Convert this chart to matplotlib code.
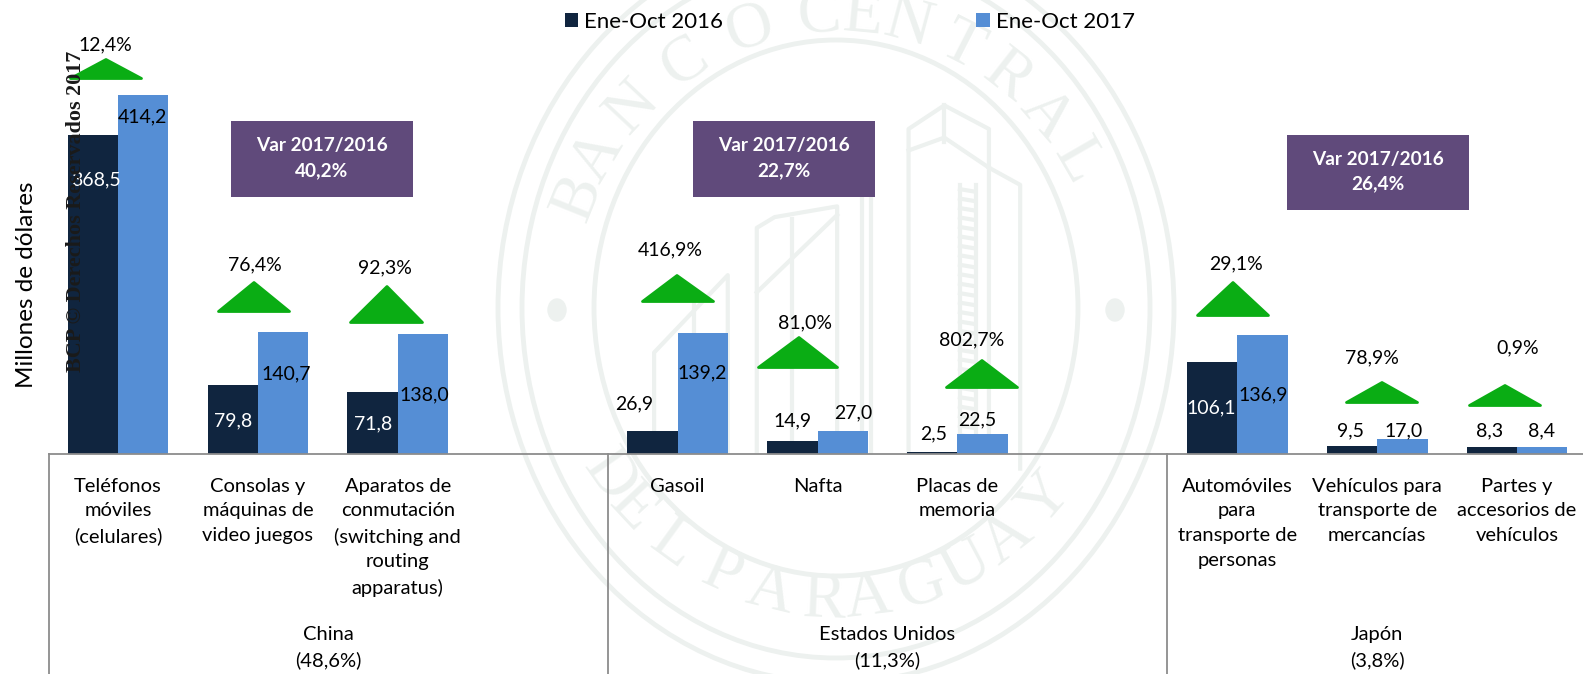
import numpy as np
import matplotlib
matplotlib.use("Agg")
import matplotlib.pyplot as plt
from matplotlib.patches import Ellipse, Polygon, Rectangle, Circle

W, H = 1583, 674
BASE_PX = 454
PX_PER_UNIT = 0.8667
X0_PX, STEP_PX = 118.0, 139.9

positions = [0, 1, 2, 4, 5, 6, 8, 9, 10]
categories = ["Teléfonos\nmóviles\n(celulares)", "Consolas y\nmáquinas de\nvideo juegos",
              "Aparatos de\nconmutación\n(switching and\nrouting\napparatus)",
              "Gasoil", "Nafta", "Placas de\nmemoria",
              "Automóviles\npara\ntransporte de\npersonas", "Vehículos para\ntransporte de\nmercancías",
              "Partes y\naccesorios de\nvehículos"]
values_2016 = [368.5, 79.8, 71.8, 26.9, 14.9, 2.5, 106.1, 9.5, 8.3]
values_2017 = [414.2, 140.7, 138.0, 139.2, 27.0, 22.5, 136.9, 17.0, 8.4]
variation = ["12,4%", "76,4%", "92,3%", "416,9%", "81,0%", "802,7%", "29,1%", "78,9%", "0,9%"]
groups = ["China\n(48,6%)", "Estados Unidos\n(11,3%)", "Japón\n(3,8%)"]
group_var = ["40,2%", "22,7%", "26,4%"]
series_names = ["Ene-Oct 2016", "Ene-Oct 2017"]

# layout (pixels)
lab16_px = [(96,180),(233,421),(373,424),(634,404),(793,421),(934,434),(1211,408),(1351,431),(1490,431)]
lab17_px = [(142,117),(286,374),(424,395),(702,373),(853,413),(977,420),(1263,395),(1404,431),(1542,431)]
lab16_col = ["white","white","white","black","black","black","white","black","black"]
var_px = [(105,45),(255,265),(385,268),(670,250),(805,323),(972,340),(1236,264),(1372,358),(1518,348)]
tri_px = [(69,143,106,58,80),(217,291,254,281,313),(349,424,387,285,324),(641,715,677,274,303),
          (757,839,799,336,369),(945,1019,982,359,389),(1196,1270,1233,281,317),(1345,1419,1382,381,404),
          (1468,1542,1505,384,407)]
box_px = [(231,121,413,197),(693,121,875,197),(1287,135,1469,210)]
group_px = [328, 887, 1377]
sep_px = [49, 608, 1167]

DARK, BLUE, PURPLE, GREEN, WM, GREY = "#10253f", "#558ed5", "#604a7b", "#0aad14", "#edf1ef", "#8c8c8c"
SANS = "Lato"
plt.rcParams["font.family"] = SANS

fig = plt.figure(figsize=(W/100, H/100), dpi=100, facecolor="white")

# background watermark, pixel coordinates
bg = fig.add_axes([0, 0, 1, 1], zorder=0)
bg.set_xlim(0, W); bg.set_ylim(H, 0); bg.axis("off")
cx, cy = 836, 308
for a, b, lw in [(338, 375, 3.5), (314, 350, 3.5), (242, 268, 3.5)]:
    bg.add_patch(Ellipse((cx, cy), 2*a, 2*b, fill=False, ec=WM, lw=lw))
for x in (557, 1115):
    bg.add_patch(Ellipse((x, 310), 18, 22, color=WM))
ta, tb = 278, 293
top = [("B",-68),("A",-59),("N",-47),("C",-33),("O",-18),("C",-3.5),("E",5.5),("N",15),("T",27),("R",38),("A",49),("L",60)]
for ch, deg in top:
    th = np.radians(deg)
    bg.text(cx+ta*np.sin(th), cy-tb*np.cos(th), ch, rotation=-deg, family="Liberation Serif",
            fontsize=47, color=WM, ha="center", va="center", rotation_mode="anchor")
bot = [("D",-55),("E",-47),("L",-36),("P",-24.5),("A",-13.7),("R",-2.5),("A",6.6),("G",18),("U",28),("A",38),("Y",49)]
for ch, deg in bot:
    th = np.radians(deg)
    bg.text(cx+ta*np.sin(th), cy+tb*np.cos(th), ch, rotation=deg, family="Liberation Serif",
            fontsize=47, color=WM, ha="center", va="center", rotation_mode="anchor")
def zp(pts):
    return [480+p[0]/2.24 for p in pts], [p[1]/2.326 for p in pts]
for pts in [[(960,1050),(960,300),(1040,245),(1140,300),(1140,1050)], [(1040,245),(1040,330)],
            [(960,350),(1040,320),(1140,390)], [(1140,390),(1210,430),(1210,1090)],
            [(855,460),(855,1050)], [(875,460),(875,1050)], [(620,1050),(620,530),(660,505),(800,480),(800,1050)],
            [(700,510),(700,1050)], [(620,680),(800,500)], [(390,1050),(390,820),(555,640),(555,1050)],
            [(480,700),(480,1050)], [(1075,430),(1075,1050)], [(1110,430),(1110,1050)]]:
    xs, ys = zp(pts)
    bg.plot(xs, ys, color=WM, lw=3, solid_joinstyle="round")
for y in range(440, 1050, 22):
    xs, ys = zp([(1075, y), (1110, y+6)])
    bg.plot(xs, ys, color=WM, lw=3)

# bars on a real value scale
ax = fig.add_axes([0, (H-BASE_PX)/H, 1, BASE_PX/H], zorder=1)
ax.patch.set_alpha(0)
ax.set_xlim(-X0_PX/STEP_PX, (W-X0_PX)/STEP_PX)
ax.set_ylim(0, BASE_PX/PX_PER_UNIT)
pos = np.array(positions)
bw = 50.4/STEP_PX
b16 = ax.bar(pos-bw/2, values_2016, bw, color=DARK, label=series_names[0])
b17 = ax.bar(pos+bw/2, values_2017, bw, color=BLUE, label=series_names[1])
for s in ("top", "left", "right"):
    ax.spines[s].set_visible(False)
ax.spines["bottom"].set_color(GREY); ax.spines["bottom"].set_linewidth(1.3)
ax.spines["bottom"].set_bounds((sep_px[0]-X0_PX)/STEP_PX, (W-X0_PX)/STEP_PX)
ax.set_yticks([])
ax.set_xticks(pos, categories, fontsize=14.5, linespacing=1.55, color="black")
ax.tick_params(axis="x", length=0, pad=17)
ax.set_ylabel("Millones de dólares", fontsize=17.5)
ax.yaxis.set_label_coords(37/W, (BASE_PX-285)/BASE_PX)
ax.legend(handles=[b16, b17], ncol=2, frameon=False, fontsize=16, handlelength=0.59, handleheight=0.59,
          handletextpad=0.27, columnspacing=11.4, borderpad=0, borderaxespad=0,
          loc="center left", bbox_to_anchor=(565/W, (BASE_PX-22)/BASE_PX))

# foreground annotations, pixel coordinates
fg = fig.add_axes([0, 0, 1, 1], zorder=2)
fg.set_xlim(0, W); fg.set_ylim(H, 0); fg.axis("off")
for x in sep_px:
    fg.plot([x, x], [BASE_PX, H], color=GREY, lw=1.3)
for (l, r, ax_, ty, by), t, (tx, tyy) in zip(tri_px, variation, var_px):
    fg.add_patch(Polygon([(l+1.5, by-1.5), (ax_, ty+1.5), (r-1.5, by-1.5)], closed=True, fc=GREEN, ec=GREEN,
                         lw=2, joinstyle="round"))
    fg.text(tx, tyy, t, fontsize=14, ha="center", va="center", color="black")
for v, (x, y), c in zip(values_2016, lab16_px, lab16_col):
    fg.text(x, y, f"{v:.1f}".replace(".", ","), fontsize=14, color=c, ha="center", va="center")
for v, (x, y) in zip(values_2017, lab17_px):
    fg.text(x, y, f"{v:.1f}".replace(".", ","), fontsize=14, color="black", ha="center", va="center")
for (x0, y0, x1, y1), v in zip(box_px, group_var):
    fg.add_patch(Rectangle((x0, y0), x1-x0, y1-y0, fc=PURPLE, ec="none"))
    fg.text((x0+x1)/2, (y0+y1)/2-1, f"Var 2017/2016\n{v}", color="white", fontsize=13.7, fontweight="bold",
            ha="center", va="center", linespacing=1.55)
for x, g in zip(group_px, groups):
    fg.text(x, 647.5, g, fontsize=14.5, ha="center", va="center", linespacing=1.5)
fg.text(76, 211, "BCP © Derechos Reservados 2017", rotation=90, family="Liberation Serif", fontweight="bold",
        fontsize=15.9, color="#1a1a1a", ha="center", va="center")

fig.savefig("out.png", dpi=100)
